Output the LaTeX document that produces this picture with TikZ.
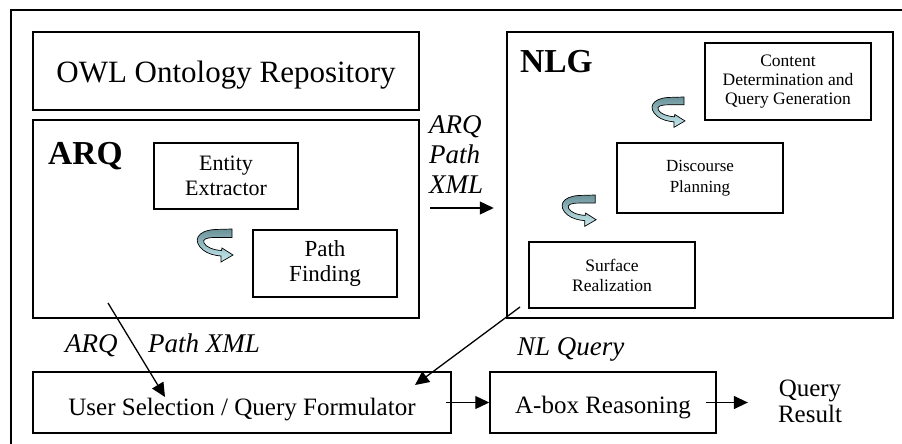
\documentclass[tikz,border=0pt]{standalone}
\usepackage{fontspec}
\setmainfont{Liberation Serif}
\usetikzlibrary{arrows.meta}
\definecolor{tdark}{RGB}{105,145,152}
\definecolor{tlight}{RGB}{200,236,240}
\begin{document}
\begin{tikzpicture}[x=1pt,y=-1pt,
  box/.style={draw, line width=1.5pt, inner sep=0pt, align=center},
  lbl/.style={inner sep=0pt, font=\fontsize{27}{30}\selectfont\itshape},
  head/.style={inner sep=0pt, anchor=base west, font=\fontsize{33.5}{38}\selectfont\bfseries},
  arr/.style={line width=1.3pt, -{Triangle[length=14pt,width=13pt]}},
  turnarrow/.pic={
    \draw[line width=0.7pt, top color=tdark, bottom color=tlight]
      (37,0) -- (20,0.5) .. controls (2,1.5) and (-3,12) .. (8,21)
      .. controls (13,25) and (20,26.5) .. (26,27) -- (26,33) -- (38,26)
      -- (27,19) -- (26.5,21.5) .. controls (18,21) and (11,18) .. (9,14)
      .. controls (7,10) and (12,8.5) .. (20,8.5) -- (37,8.5) -- cycle;
  }]
\useasboundingbox (0,0) rectangle (902,444);
% outer frame (cropped)
\draw[line width=1.5pt] (902,10) -- (11,10) -- (11,444);

% left column
\node[box, minimum width=386pt, minimum height=78pt, text height=23.4pt, text depth=0pt,
      font=\fontsize{31}{36}\selectfont] (owl) at (226,71) {OWL Ontology Repository};
\node[box, minimum width=386pt, minimum height=198pt] (arq) at (226,219) {};
\node[head] (arqlabel) at (48,164) {ARQ};
\node[box, minimum width=144pt, minimum height=66pt, font=\fontsize{22}{25}\selectfont]
      (ent) at (226,176) {Entity\\Extractor};
\node[box, minimum width=144pt, minimum height=67pt, font=\fontsize{23}{25}\selectfont]
      (path) at (325,263.5) {Path\\Finding};
\pic at (195,229) {turnarrow};

% NLG
\node[box, minimum width=386pt, minimum height=286pt] (nlg) at (700,175) {};
\node[head] (nlglabel) at (520,73) {NLG};
\node[box, minimum width=166pt, minimum height=77pt, font=\fontsize{17.5}{19}\selectfont]
      (cont) at (788,81.5) {Content\\Determination and\\Query Generation};
\node[box, minimum width=166pt, minimum height=70pt, font=\fontsize{17}{21}\selectfont]
      (disc) at (700,178) {Discourse\\Planning};
\node[box, minimum width=166pt, minimum height=66pt, font=\fontsize{17.5}{20}\selectfont]
      (surf) at (612,275) {Surface\\Realization};
\pic[scale=0.92] at (650,97) {turnarrow};
\pic[scale=0.95] at (560,195) {turnarrow};

% ARQ -> NLG
\node[lbl, align=left, anchor=north west] (xml1) at (429,115) {ARQ\\Path\\XML};
\coordinate (p1) at (430,208);
\draw[arr, shorten >=12.5pt] (p1) -- (p1 -| nlg.west);

% bottom row
\node[box, minimum width=418pt, minimum height=61pt, text height=25pt, text depth=0pt,
      font=\fontsize{25}{30}\selectfont] (user) at (242,402.5) {User Selection / Query Formulator};
\node[box, minimum width=226pt, minimum height=61pt, text height=21pt, text depth=0pt,
      font=\fontsize{25}{30}\selectfont] (abox) at (603,402.5) {A-box Reasoning};
\node[inner sep=0pt, align=center, font=\fontsize{25}{26}\selectfont] (res) at (810,401.5) {Query\\Result};

\node[lbl, anchor=base west] (lq1) at (65,352) {ARQ};
\node[lbl, anchor=base west] (lq2) at (148,352) {Path XML};
\node[lbl, anchor=base west] (lq3) at (517,355) {NL Query};

\coordinate (q1) at (108,303);
\coordinate (q2) at (165,397);
\draw[arr] (q1) -- (q2);
\coordinate (r1) at (520,307);
\coordinate (r2) at (415,385);
\draw[arr] (r1) -- (r2);
\draw[arr] ([xshift=-6pt]user.east) -- (abox.west);
\draw[arr, shorten >=30pt] ([xshift=-11pt]abox.east) -- (res.west |- abox.east);
\end{tikzpicture}
\end{document}
